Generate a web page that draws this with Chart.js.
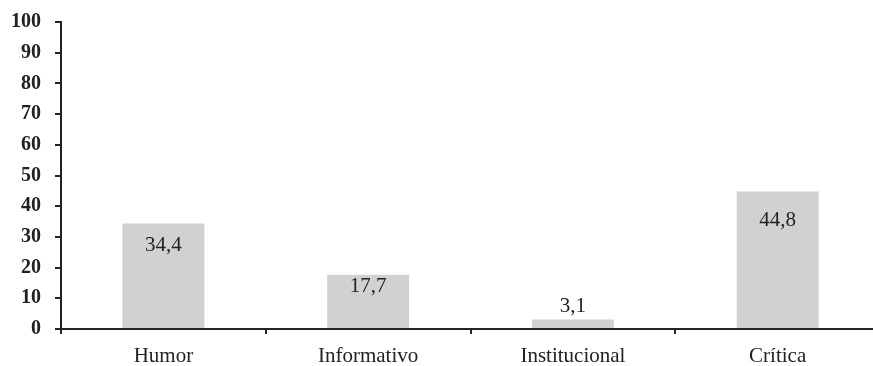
<!DOCTYPE html>
<html>
<head>
<meta charset="utf-8">
<script src="https://cdn.jsdelivr.net/npm/chart.js@4/dist/chart.umd.min.js"></script>
<style>
  html, body { margin: 0; padding: 0; background: #fff; overflow: hidden; }
  #wrap { width: 880px; height: 366px; }
</style>
</head>
<body>
<div id="wrap"><canvas id="c" width="880" height="366"></canvas></div>
<script>
// Categories and percentages
const categories = ['Humor', 'Informativo', 'Institucional', 'Crítica'];
const percentages = [34.4, 17.7, 3.1, 44.8];
const yTicks = [0, 10, 20, 30, 40, 50, 60, 70, 80, 90, 100];

const INK = '#222222';
const BAR = '#d1d1d3';
const SERIF = '"Liberation Serif", "Times New Roman", serif';

const fmt = v => v.toFixed(1).replace('.', ',');

// Writes each value on its bar: inside near the top, or above a short bar
const valueLabels = {
  id: 'valueLabels',
  afterDatasetsDraw(chart) {
    const ctx = chart.ctx;
    const y = chart.scales.y;
    const meta = chart.getDatasetMeta(0);
    ctx.save();
    ctx.font = '21px ' + SERIF;
    ctx.fillStyle = INK;
    ctx.textAlign = 'center';
    ctx.textBaseline = 'middle';
    meta.data.forEach((bar, i) => {
      const v = percentages[i];
      let py;
      if (v < 8) {
        py = bar.y - 13;
      } else {
        py = y.getPixelForValue(v * 0.79);
      }
      ctx.fillText(fmt(v), bar.x, py);
    });
    ctx.restore();
  }
};

new Chart(document.getElementById('c'), {
  type: 'bar',
  data: {
    labels: categories,
    datasets: [{
      data: percentages,
      backgroundColor: BAR,
      borderWidth: 0,
      barPercentage: 0.8,
      categoryPercentage: 0.5
    }]
  },
  options: {
    responsive: false,
    animation: false,
    devicePixelRatio: 1,
    layout: { padding: { top: 21, right: 0, left: 0, bottom: 0 } },
    plugins: { legend: { display: false }, tooltip: { enabled: false } },
    scales: {
      x: {
        grid: {
          display: true,
          offset: true,
          drawOnChartArea: false,
          drawTicks: true,
          tickLength: 5,
          color: INK,
          lineWidth: 2
        },
        border: { display: true, color: INK, width: 2 },
        ticks: {
          color: INK,
          font: { family: SERIF, size: 21 },
          padding: 10,
          maxRotation: 0
        },
        afterFit(scale) { scale.height = 37; }
      },
      y: {
        min: 0,
        max: 100,
        afterBuildTicks(scale) { scale.ticks = yTicks.map(v => ({ value: v })); },
        grid: {
          display: true,
          drawOnChartArea: false,
          drawTicks: true,
          tickLength: 6,
          color: INK,
          lineWidth: 2
        },
        border: { display: true, color: INK, width: 2 },
        ticks: {
          color: INK,
          font: { family: SERIF, size: 20, weight: 'bold', lineHeight: 0.8 },
          padding: 14
        },
        afterFit(scale) { scale.width = 61; }
      }
    }
  },
  plugins: [valueLabels]
});
</script>
</body>
</html>
